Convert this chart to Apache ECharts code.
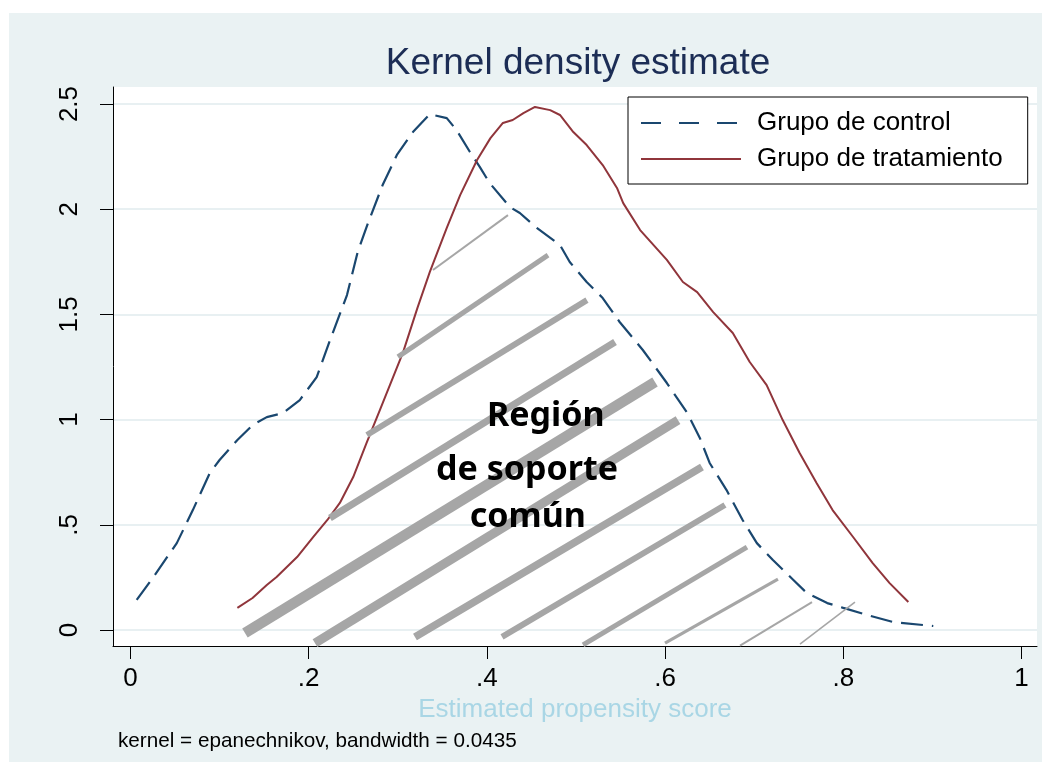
<!DOCTYPE html>
<html>
<head>
<meta charset="utf-8">
<script src="https://cdn.jsdelivr.net/npm/echarts@6/dist/echarts.min.js"></script>
<style>html,body{margin:0;padding:0;background:#fff}#chart{width:1051px;height:774px}</style>
</head>
<body>
<div id="chart"></div>
<script>
// ---- data ----
const xTicks = [0, 0.2, 0.4, 0.6, 0.8, 1];
const yTicks = [0, 0.5, 1, 1.5, 2, 2.5];

const controlX = [0.007,0.025,0.052,0.070,0.089,0.100,0.120,0.137,0.153,0.171,0.190,0.209,0.224,0.243,0.255,0.267,0.283,0.299,0.317,0.336,0.355,0.366,0.381,0.392,0.403,0.426,0.437,0.456,0.482,0.493,0.512,0.530,0.549,0.575,0.602,0.625,0.639,0.650,0.669,0.687,0.703,0.721,0.744,0.759,0.782,0.800,0.827,0.856,0.901];
const controlY = [0.143,0.247,0.413,0.570,0.746,0.808,0.903,0.974,1.012,1.031,1.093,1.202,1.378,1.592,1.797,1.939,2.115,2.258,2.367,2.452,2.433,2.376,2.272,2.201,2.125,2.010,1.982,1.911,1.830,1.749,1.654,1.578,1.464,1.331,1.174,1.031,0.913,0.794,0.665,0.523,0.413,0.333,0.238,0.176,0.128,0.105,0.071,0.038,0.019];

const treatX = [0.120,0.137,0.153,0.164,0.187,0.205,0.221,0.235,0.250,0.265,0.280,0.306,0.322,0.336,0.355,0.370,0.389,0.404,0.418,0.429,0.441,0.454,0.471,0.482,0.497,0.512,0.530,0.546,0.553,0.572,0.602,0.620,0.636,0.654,0.676,0.695,0.714,0.732,0.751,0.770,0.788,0.811,0.833,0.852,0.873];
const treatY = [0.105,0.152,0.214,0.252,0.347,0.442,0.523,0.604,0.727,0.889,1.046,1.321,1.530,1.702,1.911,2.067,2.234,2.338,2.410,2.424,2.457,2.486,2.471,2.448,2.367,2.305,2.210,2.101,2.029,1.901,1.759,1.654,1.606,1.511,1.412,1.274,1.164,0.998,0.841,0.699,0.570,0.442,0.318,0.223,0.133];

// hatch segments of the "common support" region: [x1, y1, x2, y2]
const hatchSegments = [
  [0.1285,-0.014,0.5887,1.179],
  [0.2071,-0.062,0.6145,0.998],
  [0.3193,-0.033,0.6414,0.775],
  [0.4170,-0.033,0.6672,0.594],
  [0.5079,-0.071,0.6919,0.394],
  [0.5999,-0.062,0.7267,0.242],
  [0.6841,-0.074,0.7649,0.133],
  [0.7514,-0.067,0.8131,0.133],
  [0.2239,0.532,0.5438,1.369],
  [0.2654,0.927,0.5123,1.568],
  [0.3002,1.298,0.4686,1.782],
  [0.3395,1.711,0.4237,1.972]
];
const regionLabels = ['Región', 'de soporte', 'común'];
const regionLabelX = [0.466, 0.445, 0.446];
const regionLabelY = [1.017, 0.760, 0.537];

const seriesNames = ['Grupo de control', 'Grupo de tratamiento'];
const titleText = 'Kernel density estimate';
const xTitle = 'Estimated propensity score';
const noteText = 'kernel = epanechnikov, bandwidth = 0.0435';

// ---- styles ----
const hatchWidths = [10.5,9,7.5,6,5,3.2,2,1.6,7,6,5,2];
const NAVY = '#1a476f', MAROON = '#90353b', GRID = '#e8f0f2', HATCH = '#a6a6a6';
const FONT = '"Liberation Sans", Arial, sans-serif';

const fmt = v => { if (v === 0) return '0'; if (v === 1) return '1'; return String(+v.toFixed(2)).replace(/^0\./, '.'); };

const series = [];
hatchSegments.forEach((s, i) => {
  series.push({
    type: 'line', silent: true, symbol: 'none', z: 3,
    data: [[s[0], s[1]], [s[2], s[3]]],
    lineStyle: { color: HATCH, width: hatchWidths[i], cap: 'butt' }
  });
});
series.push({
  name: seriesNames[0], type: 'line', symbol: 'none', showSymbol: false, z: 2,
  data: controlX.map((x, i) => [x, controlY[i]]),
  itemStyle: { color: NAVY },
  lineStyle: { color: NAVY, width: 2.2, type: [22, 9] }
});
series.push({
  name: seriesNames[1], type: 'line', symbol: 'none', showSymbol: false, z: 2,
  data: treatX.map((x, i) => [x, treatY[i]]),
  itemStyle: { color: MAROON },
  lineStyle: { color: MAROON, width: 2 }
});
series.push({
  type: 'scatter', silent: true, symbolSize: 0, z: 10,
  itemStyle: { opacity: 1 },
  data: regionLabels.map((t, i) => ({ name: t, value: [regionLabelX[i], regionLabelY[i]] })),
  label: {
    show: true, position: 'inside', formatter: p => p.name, opacity: 1,
    color: '#000000', textBorderWidth: 0,
    fontFamily: '"Noto Sans", sans-serif', fontWeight: 'bold', fontSize: 34
  }
});

const chart = echarts.init(document.getElementById('chart'), null, { renderer: 'canvas' });
chart.setOption({
  animation: false,
  backgroundColor: '#ffffff',
  graphic: [{
    type: 'rect', z: -10, silent: true,
    shape: { x: 9, y: 13, width: 1033, height: 749 },
    style: { fill: '#eaf2f3' }
  }],
  title: [
    { text: titleText, left: 578, top: 45, textAlign: 'center', padding: 0,
      textStyle: { fontFamily: FONT, fontSize: 37, fontWeight: 'normal', color: '#1c2d55' } },
    { text: noteText, left: 118, top: 731, padding: 0,
      textStyle: { fontFamily: FONT, fontSize: 20.7, fontWeight: 'normal', color: '#000' } }
  ],
  legend: {
    orient: 'vertical', left: 628, top: 97,
    padding: [13, 25, 12, 12], itemGap: 10,
    itemWidth: 100, itemHeight: 14,
    backgroundColor: '#ffffff', borderColor: '#000', borderWidth: 1,
    itemStyle: { opacity: 0 },
    textStyle: { fontFamily: FONT, fontSize: 26, color: '#000', lineHeight: 26, padding: [0, 0, 0, 11] },
    data: [
      { name: seriesNames[0], lineStyle: { type: [20, 18] } },
      { name: seriesNames[1] }
    ]
  },
  grid: {
    left: 113, right: 14, top: 87, bottom: 128,
    show: true, backgroundColor: '#ffffff', borderWidth: 0
  },
  xAxis: {
    type: 'value', min: -0.0196, max: 1.0174,
    name: xTitle, nameLocation: 'middle', nameGap: 43,
    nameTextStyle: { fontFamily: FONT, fontSize: 26, color: '#a9d6e5' },
    axisLine: { show: true, onZero: false, lineStyle: { color: '#000', width: 1 } },
    axisTick: { show: true, length: 13, customValues: xTicks, lineStyle: { color: '#000' } },
    axisLabel: { customValues: xTicks, formatter: fmt, margin: 20,
      fontFamily: FONT, fontSize: 26, color: '#000' },
    splitLine: { show: false }
  },
  yAxis: {
    type: 'value', min: -0.076, max: 2.581,
    axisLine: { show: true, onZero: false, lineStyle: { color: '#000', width: 1 } },
    axisTick: { show: true, length: 13, customValues: yTicks, lineStyle: { color: '#000' } },
    axisLabel: { customValues: yTicks, formatter: fmt, rotate: 90, margin: 30,
      fontFamily: FONT, fontSize: 26, color: '#000' },
    splitLine: { show: true, lineStyle: { color: GRID, width: 2 } }
  },
  series: series
});
</script>
</body>
</html>
